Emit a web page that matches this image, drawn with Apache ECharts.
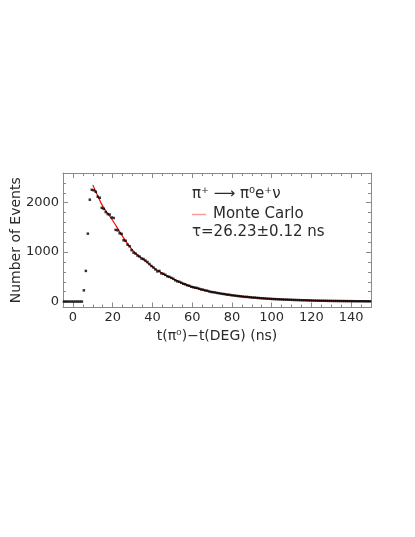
<!DOCTYPE html>
<html>
<head>
<meta charset="utf-8">
<script src="https://cdn.jsdelivr.net/npm/echarts@6/dist/echarts.min.js"></script>
<style>
  html, body { margin: 0; padding: 0; background: #fff; }
  #chart { width: 415px; height: 537px; }
</style>
</head>
<body>
<div id="chart"></div>
<script>
// Histogram counts, 1 ns bins, first bin centred at -4.5 ns
const binStart = -4.5;
const counts = [
  0, 0, 0, 0, 0, 0, 0, 0, 0, 0,
  227, 620, 1373, 2060, 2260, 2250, 2220, 2120, 2100, 1895,
  1875, 1810, 1770, 1760, 1700, 1690, 1450, 1440, 1380, 1370,
  1240, 1230, 1150, 1120, 1040, 990, 970, 930, 910, 870,
  860, 830, 800, 760, 720, 690, 650, 610, 620, 570,
  560, 540, 510, 500, 480, 460, 430, 410, 400, 380,
  360, 350, 330, 320, 300, 290, 280, 275, 260, 245,
  240, 225, 220, 205, 195, 190, 185, 175, 170, 160,
  155, 150, 140, 140, 130, 125, 120, 115, 110, 105,
  100, 95, 95, 90, 85, 80, 80, 75, 72, 68,
  65, 62, 60, 58, 55, 52, 50, 48, 46, 44,
  42, 40, 40, 38, 36, 34, 33, 31, 30, 28,
  27, 26, 25, 23, 22, 21, 20, 19, 18, 17,
  17, 16, 15, 14, 14, 13, 12, 12, 11, 11,
  10, 10, 9, 9, 8, 8, 8, 7, 7, 7,
  6, 6, 6, 5, 5
];
const binCenters = counts.map((_, i) => binStart + i);

// Monte Carlo curve
const mcT = [10, 12, 15, 20, 25, 30, 35, 40, 45, 50, 55, 60, 65, 70, 75, 80, 85, 90, 95, 100, 110, 120, 130, 140, 150];
const mcN = [2360, 2180, 1930, 1640, 1320, 1040, 865, 705, 570, 470, 372, 297, 243, 193, 158, 128, 104, 84, 68, 55, 37, 25, 16, 10, 6];

// Axis ticks
const xMajorTicks = [0, 20, 40, 60, 80, 100, 120, 140];
const xMinorTicks = [-5, 5, 10, 15, 25, 30, 35, 45, 50, 55, 65, 70, 75, 85, 90, 95, 105, 110, 115, 125, 130, 135, 145, 150];
const yMajorTicks = [0, 1000, 2000];
const yMinorTicks = [200, 400, 600, 800, 1200, 1400, 1600, 1800, 2200, 2400];
const xRange = [-5, 150];
const yRange = [-120, 2600];

const FONT = '"DejaVu Sans", sans-serif';
const FRAME = '#8a8a8a';
const TEXT = '#2a2a2a';

function xAxisDef(pos, ticks, len, withLabels, withLine) {
  return {
    type: 'value', position: pos, min: xRange[0], max: xRange[1],
    splitLine: { show: false },
    axisLine: { show: withLine, onZero: false, lineStyle: { color: FRAME, width: 1 } },
    axisTick: { show: true, inside: true, length: len, customValues: ticks, lineStyle: { color: FRAME } },
    axisLabel: withLabels ? { show: true, customValues: ticks, margin: 4, color: TEXT, fontFamily: FONT, fontSize: 13, formatter: v => String(v) } : { show: false },
    name: withLabels ? 't(π⁰)−t(DEG) (ns)' : '',
    nameLocation: 'middle', nameGap: 22, nameMoveOverlap: false,
    nameTextStyle: { color: TEXT, fontFamily: FONT, fontSize: 14 }
  };
}
function yAxisDef(pos, ticks, len, withLabels, withLine) {
  return {
    type: 'value', position: pos, min: yRange[0], max: yRange[1],
    splitLine: { show: false },
    axisLine: { show: withLine, onZero: false, lineStyle: { color: FRAME, width: 1 } },
    axisTick: { show: true, inside: true, length: len, customValues: ticks, lineStyle: { color: FRAME } },
    axisLabel: withLabels ? { show: true, customValues: ticks, margin: 4, color: TEXT, fontFamily: FONT, fontSize: 13, formatter: v => String(v) } : { show: false },
    name: withLabels ? 'Number of Events' : '',
    nameLocation: 'middle', nameGap: 40, nameRotate: 90, nameMoveOverlap: false,
    nameTextStyle: { color: TEXT, fontFamily: FONT, fontSize: 14 }
  };
}

const chart = echarts.init(document.getElementById('chart'), null, { renderer: 'canvas' });
chart.setOption({
  backgroundColor: '#ffffff',
  animation: false,
  grid: { left: 63, right: 44, top: 173, bottom: 229.5, containLabel: false, outerBoundsMode: 'none' },
  xAxis: [
    xAxisDef('bottom', xMajorTicks, 5, true, true),
    xAxisDef('bottom', xMinorTicks, 3, false, false),
    xAxisDef('top', xMajorTicks, 5, false, true),
    xAxisDef('top', xMinorTicks, 3, false, false)
  ],
  yAxis: [
    yAxisDef('left', yMajorTicks, 5, true, true),
    yAxisDef('left', yMinorTicks, 3, false, false),
    yAxisDef('right', yMajorTicks, 5, false, true),
    yAxisDef('right', yMinorTicks, 3, false, false)
  ],
  legend: {
    data: [{ name: 'Monte Carlo', itemStyle: { color: '#ff9a9a' } }],
    left: 192, top: 207, padding: 0,
    icon: 'rect', itemWidth: 14, itemHeight: 1.5, itemGap: 5,
    textStyle: { color: TEXT, fontFamily: FONT, fontSize: 15, padding: [0, 0, 0, 2] }
  },
  graphic: [
    { type: 'text', left: 192, top: 187, style: { text: 'π⁺ ⟶ π⁰e⁺ν', font: '15px ' + FONT, fill: TEXT } },
    { type: 'text', left: 192, top: 225, style: { text: 'τ=26.23±0.12 ns', font: '15px ' + FONT, fill: TEXT } }
  ],
  series: [
    {
      name: 'Monte Carlo', type: 'line', xAxisIndex: 0, yAxisIndex: 0,
      data: mcT.map((t, i) => [t, mcN[i]]),
      smooth: true, showSymbol: false, symbol: 'none',
      lineStyle: { color: '#ff0000', width: 1.2 },
      itemStyle: { color: '#ff0000' },
      z: 2
    },
    {
      name: 'Data', type: 'scatter', xAxisIndex: 0, yAxisIndex: 0,
      data: binCenters.map((t, i) => [t, counts[i]]),
      symbol: 'rect', symbolSize: [2.5, 2.5],
      itemStyle: { color: '#000000' },
      z: 3
    }
  ]
});
</script>
</body>
</html>
